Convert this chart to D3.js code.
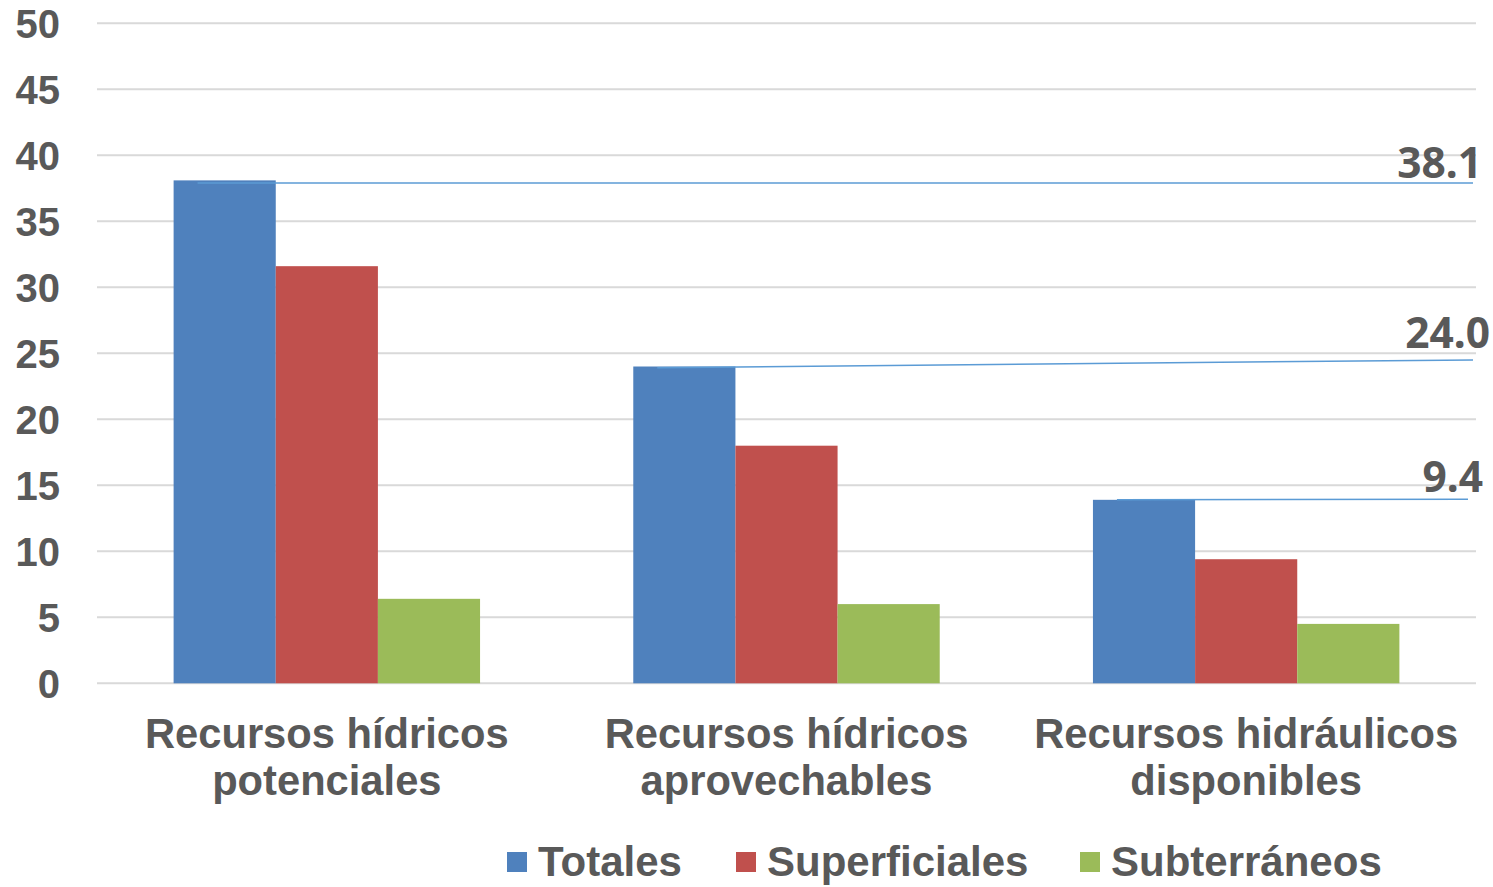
<!DOCTYPE html>
<html>
<head>
<meta charset="utf-8">
<script src="https://cdn.jsdelivr.net/npm/d3@7"></script>
<style>
  html, body { margin: 0; padding: 0; background: #fff; }
  svg { display: block; }
</style>
</head>
<body>
<svg id="chart" width="1493" height="887"></svg>
<script>
// ---- Data ----
const categories = [
  ["Recursos hídricos", "potenciales"],
  ["Recursos hídricos", "aprovechables"],
  ["Recursos hidráulicos", "disponibles"]
];
const seriesNames = ["Totales", "Superficiales", "Subterráneos"];
const totales = [38.1, 24.0, 13.9];
const superficiales = [31.6, 18.0, 9.4];
const subterraneos = [6.4, 6.0, 4.5];
const yTicks = [0, 5, 10, 15, 20, 25, 30, 35, 40, 45, 50];
// annotation callouts (value shown, line start value, line end value)
const annotLabels = ["38.1", "24.0", "9.4"];
const annotStart = [37.9, 23.9, 13.9];
const annotEnd = [37.9, 24.5, 13.95];

(function () {
const colors = ["#4f81bd", "#c0504d", "#9bbb59"];
const textColor = "#595959";

const svg = d3.select("#chart");
const mLeft = 97, mRight = 1476, mTop = 23.3, mBottom = 683.3;

const y = d3.scaleLinear().domain([0, 50]).range([mBottom, mTop]);
const x0 = d3.scaleBand().domain(d3.range(categories.length)).range([mLeft, mRight]).padding(0);
const x1 = d3.scaleBand().domain(seriesNames).range([0, x0.bandwidth()]).paddingInner(0).paddingOuter(0.75);

const series = [totales, superficiales, subterraneos];

// gridlines
svg.append("g").selectAll("line").data(yTicks).join("line")
  .attr("x1", mLeft).attr("x2", mRight)
  .attr("y1", d => y(d)).attr("y2", d => y(d))
  .attr("stroke", "#d9d9d9").attr("stroke-width", 2);

// y-axis labels
const yAxis = d3.axisLeft(y).tickValues(yTicks).tickSize(0).tickPadding(0);
const ya = svg.append("g").attr("transform", "translate(60,0)").call(yAxis);
ya.select(".domain").remove();
ya.selectAll("text")
  .attr("fill", textColor)
  .style("font-family", "'Liberation Sans', Arial, sans-serif")
  .style("font-weight", "bold")
  .style("font-size", "40px")
  .attr("dy", "0.36em");

// bars
const groups = svg.append("g").selectAll("g").data(categories).join("g")
  .attr("transform", (d, i) => `translate(${x0(i)},0)`);
groups.selectAll("rect")
  .data((d, i) => seriesNames.map((s, j) => ({ s, j, v: series[j][i] })))
  .join("rect")
  .attr("x", d => x1(d.s))
  .attr("width", x1.bandwidth())
  .attr("y", d => y(d.v))
  .attr("height", d => y(0) - y(d.v))
  .attr("fill", d => colors[d.j]);

// category labels
const catG = svg.append("g");
categories.forEach((lines, i) => {
  const cx = x0(i) + x0.bandwidth() / 2;
  const t = catG.append("text")
    .attr("text-anchor", "middle")
    .attr("fill", textColor)
    .style("font-family", "'Liberation Sans', Arial, sans-serif")
    .style("font-weight", "bold")
    .style("font-size", "41.7px");
  lines.forEach((ln, k) => {
    t.append("tspan").attr("x", cx).attr("y", 748 + k * 47).text(ln);
  });
});

// annotation lines and labels
const lineEndX = [mRight - 3, mRight - 3, mRight - 8];
const labelDX = [9, 17, 15];
const labelDY = [-5, -12, -7];
annotLabels.forEach((lab, i) => {
  const sx = x0(i) + x1("Totales") + 24;
  svg.append("line")
    .attr("x1", sx).attr("y1", y(annotStart[i]))
    .attr("x2", lineEndX[i]).attr("y2", y(annotEnd[i]))
    .attr("stroke", "#5b9bd5").attr("stroke-width", 1.5);
  svg.append("text")
    .attr("x", lineEndX[i] + labelDX[i])
    .attr("y", y(annotEnd[i]) + labelDY[i])
    .attr("text-anchor", "end")
    .attr("fill", textColor)
    .style("font-family", "'Noto Sans', sans-serif")
    .style("font-weight", "bold")
    .style("font-size", "42.5px")
    .text(lab);
});

// legend
const legendX = [507, 736, 1080];
const lg = svg.append("g");
seriesNames.forEach((s, i) => {
  lg.append("rect").attr("x", legendX[i]).attr("y", 852).attr("width", 20).attr("height", 20).attr("fill", colors[i]);
  lg.append("text")
    .attr("x", legendX[i] + 31).attr("y", 876)
    .attr("fill", textColor)
    .style("font-family", "'Liberation Sans', Arial, sans-serif")
    .style("font-weight", "bold")
    .style("font-size", "42px")
    .text(s);
});
})();
</script>
</body>
</html>
